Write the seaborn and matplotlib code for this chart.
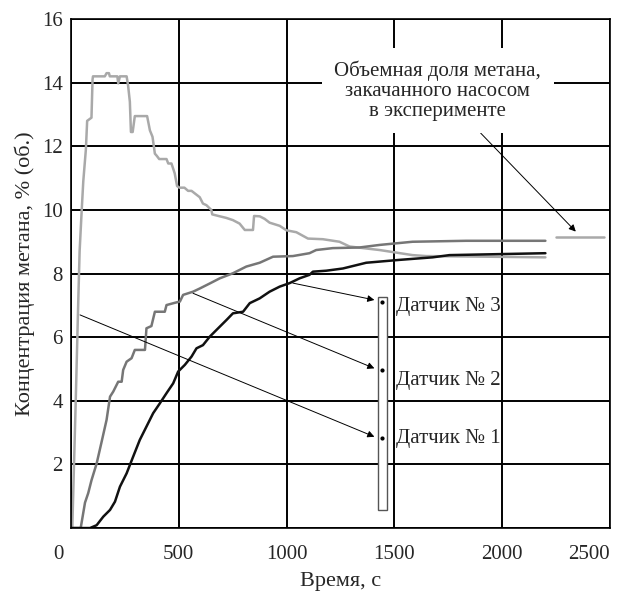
import numpy as np
import pandas as pd
import matplotlib
matplotlib.use('Agg')
import matplotlib.pyplot as plt
import matplotlib.transforms as mtransforms
import seaborn as sns

# sensor 1 (light gray), sensor 2 (mid gray), sensor 3 (black)
t1 = [0, 6, 22, 34, 40, 49, 57, 69, 75, 95, 100, 102, 157, 165, 176, 180, 215, 219, 227, 258,
      265, 273, 278, 286, 296, 353, 366, 378, 389, 398, 409, 443, 451, 466, 481, 492, 503, 526,
      543, 559, 597, 612, 628, 651, 655, 690, 720, 751, 782, 806, 844, 849, 875, 898, 921, 968,
      999, 1045, 1099, 1168, 1245, 1292, 1431, 1584, 1647, 2200]
c1 = [0, 0, 4.0, 7.2, 8.7, 9.9, 10.9, 11.9, 12.8, 12.9, 14.1, 14.2, 14.2, 14.3, 14.3, 14.2, 14.2,
      13.98, 14.2, 14.2, 13.9, 13.4, 12.45, 12.45, 12.95, 12.95, 12.5, 12.3, 11.77, 11.7, 11.6,
      11.6, 11.46, 11.46, 11.15, 10.75, 10.7, 10.7, 10.6, 10.6, 10.4, 10.2, 10.15, 10.0, 9.86,
      9.8, 9.75, 9.68, 9.57, 9.37, 9.37, 9.81, 9.8, 9.72, 9.6, 9.5, 9.36, 9.3, 9.1, 9.08, 9.0,
      8.85, 8.74, 8.58, 8.55, 8.51]

t2 = [0, 45, 65, 80, 95, 119, 142, 165, 181, 196, 219, 235, 242, 258, 281, 296, 343, 350, 373,
      389, 435, 443, 481, 505, 520, 566, 597, 644, 690, 751, 813, 875, 937, 1029, 1106, 1137,
      1214, 1338, 1431, 1584, 1832, 2200]
c2 = [0, 0, 0.8, 1.1, 1.5, 2.03, 2.71, 3.4, 4.13, 4.29, 4.6, 4.6, 4.97, 5.23, 5.34, 5.6, 5.6,
      6.28, 6.35, 6.8, 6.8, 7.01, 7.08, 7.12, 7.33, 7.43, 7.53, 7.69, 7.85, 8.01, 8.22, 8.34,
      8.53, 8.55, 8.64, 8.74, 8.8, 8.82, 8.9, 9.0, 9.03, 9.03]

t3 = [0, 88, 119, 150, 181, 204, 227, 258, 288, 319, 350, 381, 412, 443, 474, 497, 528, 559,
      582, 612, 644, 675, 721, 751, 798, 829, 875, 921, 968, 1014, 1060, 1106, 1122, 1184, 1261,
      1369, 1523, 1677, 1755, 2200]
c3 = [0, 0, 0.09, 0.36, 0.57, 0.83, 1.3, 1.72, 2.24, 2.77, 3.19, 3.61, 3.92, 4.24, 4.55, 4.92,
      5.13, 5.39, 5.65, 5.75, 6.02, 6.23, 6.54, 6.75, 6.8, 7.07, 7.22, 7.43, 7.59, 7.7, 7.85,
      7.96, 8.06, 8.09, 8.16, 8.34, 8.43, 8.51, 8.58, 8.64]

# methane fraction pumped in
t_pump = [2250, 2470]
c_pump = [9.15, 9.15]

# sensor positions on the tube
sensor_y = [2.82, 4.97, 7.12]
label_y = [2.83, 4.65, 6.96]
sensor_labels = ['Датчик № 1', 'Датчик № 2', 'Датчик № 3']
arrow_from = [(42, 6.7), (566, 7.38), (1029, 7.7)]

sns.set_style('white')
plt.rcParams['font.family'] = ['Liberation Serif', 'DejaVu Serif']

fig, ax = plt.subplots(figsize=(6.2, 5.96), dpi=100)
fig.subplots_adjust(left=0.1145, right=0.984, top=0.968, bottom=0.114)

sns.lineplot(x=t1, y=c1, ax=ax, color='#a9a9a9', lw=1.8, estimator=None, sort=False)
sns.lineplot(x=t2, y=c2, ax=ax, color='#767676', lw=1.8, estimator=None, sort=False)
sns.lineplot(x=t3, y=c3, ax=ax, color='#111111', lw=1.8, estimator=None, sort=False)
sns.lineplot(x=t_pump, y=c_pump, ax=ax, color='#a9a9a9', lw=1.8, estimator=None, sort=False)

ax.set_xlim(0, 2500)
ax.set_ylim(0, 16)
ax.set_xticks(range(0, 2501, 500))
ax.set_yticks(range(0, 17, 2))
ax.set_yticklabels([''] + [str(v) for v in range(2, 17, 2)])
ax.tick_params(length=0, labelsize=15)
ax.tick_params(axis='y', pad=6)
ax.tick_params(axis='x', pad=12)
xlabs = ax.get_xticklabels()
xlabs[-1].set_horizontalalignment('right')
xlabs[0].set_transform(xlabs[0].get_transform() +
                       mtransforms.ScaledTranslation(-0.13, 0, fig.dpi_scale_trans))
ax.grid(True, color='black', lw=1.4)
ax.set_axisbelow(True)
for s in ax.spines.values():
    s.set_color('black')
    s.set_linewidth(1.2)

ax.set_xlabel('Время, с', fontsize=16, labelpad=6)
ax.set_ylabel('Концентрация метана, % (об.)', fontsize=16, labelpad=5)

# tube with sensors
tube = plt.Rectangle((1426, 0.57), 38, 6.68, fill=True, facecolor='white',
                     edgecolor='#555555', lw=1.0, zorder=3)
ax.add_patch(tube)
ax.scatter([1444] * 3, sensor_y, s=4, color='black', zorder=4)

for (x0, y0), ys, ly, lab in zip(arrow_from, sensor_y, label_y, sensor_labels):
    ax.annotate('', xy=(1407, ys + 0.05), xytext=(x0, y0),
                arrowprops=dict(arrowstyle='-|>', color='black', lw=0.7,
                                mutation_scale=10, shrinkA=0, shrinkB=0), zorder=4)
    ax.text(1508, ly, lab, fontsize=15, ha='left', va='center')

ax.annotate('Объемная доля метана,\nзакачанного насосом\nв эксперименте',
            xy=(2341, 9.32), xytext=(1700, 13.75), fontsize=15, ha='center', va='center',
            linespacing=1.05,
            bbox=dict(boxstyle='square,pad=0.6', facecolor='white', edgecolor='none'),
            arrowprops=dict(arrowstyle='-|>', color='black', lw=0.7, mutation_scale=10,
                            shrinkA=0, shrinkB=0, relpos=(0.65, 0.0)), zorder=5)

fig.savefig('out.png', dpi=100)
